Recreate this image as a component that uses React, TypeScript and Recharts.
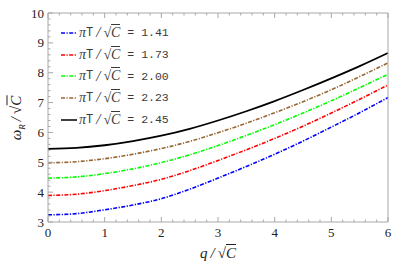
import { LineChart, Line, XAxis, YAxis } from 'recharts'

const qValues = [0, 0.5, 1, 1.5, 2, 2.5, 3, 3.5, 4, 4.5, 5, 5.5, 6]
const omegaT141 = [3.24, 3.28, 3.41, 3.57, 3.78, 4.1, 4.47, 4.86, 5.27, 5.71, 6.18, 6.66, 7.17]
const omegaT173 = [3.89, 3.93, 4.05, 4.22, 4.43, 4.72, 5.06, 5.42, 5.8, 6.21, 6.65, 7.11, 7.59]
const omegaT200 = [4.47, 4.51, 4.62, 4.78, 4.99, 5.25, 5.56, 5.9, 6.26, 6.65, 7.06, 7.5, 7.95]
const omegaT223 = [4.98, 5.02, 5.12, 5.27, 5.46, 5.7, 5.99, 6.31, 6.66, 7.03, 7.43, 7.87, 8.33]
const omegaT245 = [5.45, 5.48, 5.57, 5.71, 5.89, 6.12, 6.4, 6.71, 7.05, 7.42, 7.81, 8.22, 8.66]

const xMajor = [0, 1, 2, 3, 4, 5, 6]
const yMajor = [3, 4, 5, 6, 7, 8, 9, 10]

const DOTDASH = '4 1.5 1.2 1.5'

const series = [
  { key: 't141', label: '1.41', color: '#0000ff', dash: DOTDASH, values: omegaT141 },
  { key: 't173', label: '1.73', color: '#ff0000', dash: DOTDASH, values: omegaT173 },
  { key: 't200', label: '2.00', color: '#00ff00', dash: DOTDASH, values: omegaT200 },
  { key: 't223', label: '2.23', color: '#996633', dash: DOTDASH, values: omegaT223 },
  { key: 't245', label: '2.45', color: '#000000', dash: undefined, values: omegaT245 },
]

const data = qValues.map((q, i) => {
  const row: Record<string, number> = { q }
  series.forEach((s) => { row[s.key] = s.values[i] })
  return row
})

// majors plus 4 minor ticks in between
const withMinor = (majors: number[]) => {
  const out: number[] = []
  majors.forEach((m, i) => {
    out.push(m)
    if (i < majors.length - 1) {
      const step = (majors[i + 1] - m) / 5
      for (let k = 1; k < 5; k++) out.push(Math.round((m + k * step) * 100) / 100)
    }
  })
  return out
}
const xTicks = withMinor(xMajor)
const yTicks = withMinor(yMajor)

const FRAME = '#a8a8a8'
const SERIF = '"Liberation Serif", "Times New Roman", serif'
const MONO = '"Liberation Mono", "DejaVu Sans Mono", monospace'
const LEG_TEXT = '#3a3a3a'

const makeTick = (side: 'bottom' | 'top' | 'left' | 'right', majors: number[]) => (props: any) => {
  const { x, y, payload } = props
  const major = majors.includes(payload.value)
  const len = major ? 5 : 2.5
  let line
  if (side === 'bottom') line = <line x1={x} x2={x} y1={y} y2={y - len} stroke={FRAME} />
  else if (side === 'top') line = <line x1={x} x2={x} y1={y} y2={y + len} stroke={FRAME} />
  else if (side === 'left') line = <line x1={x} x2={x + len} y1={y} y2={y} stroke={FRAME} />
  else line = <line x1={x} x2={x - len} y1={y} y2={y} stroke={FRAME} />
  return (
    <g>
      {line}
      {major && side === 'bottom' && (
        <text x={x} y={y + 15} textAnchor="middle" fontFamily={SERIF} fontSize={13} fill="#222">
          {payload.value}
        </text>
      )}
      {major && side === 'left' && (
        <text x={x - 4} y={y + 4.5} textAnchor="end" fontFamily={SERIF} fontSize={13} fill="#222">
          {payload.value}
        </text>
      )}
    </g>
  )
}

const SqrtC = () => (
  <span style={{ whiteSpace: 'nowrap' }}>
    √<span style={{ borderTop: '1px solid currentColor', paddingTop: 0 }}>C</span>
  </span>
)

function LegendBox() {
  return (
    <div style={{ position: 'absolute', left: 61, top: 22 }}>
      {series.map((s) => (
        <div key={s.key} style={{ display: 'flex', alignItems: 'center', height: 21.7 }}>
          <svg width={16} height={4} style={{ marginRight: 2 }}>
            <line x1={0} x2={16} y1={2} y2={2} stroke={s.color} strokeWidth={1.5} strokeDasharray={s.dash} />
          </svg>
          <span style={{ fontFamily: SERIF, fontStyle: 'italic', fontSize: 14, color: LEG_TEXT }}>π</span>
          <span style={{ fontFamily: MONO, fontSize: 12, color: LEG_TEXT }}>T</span>
          <span style={{ fontFamily: SERIF, fontStyle: 'italic', fontSize: 15, color: LEG_TEXT, margin: '0 3px' }}>/</span>
          <span style={{ fontFamily: SERIF, fontStyle: 'italic', fontSize: 14, color: LEG_TEXT }}><SqrtC /></span>
          <span style={{ fontFamily: MONO, fontSize: 11.5, color: LEG_TEXT, whiteSpace: 'pre' }}>{` = ${s.label}`}</span>
        </div>
      ))}
    </div>
  )
}

export default function App() {
  return (
    <div style={{ position: 'absolute', left: 0, top: 0, width: 398, height: 271, background: '#fff' }}>
      <LineChart width={398} height={271} data={data} margin={{ top: 0, right: 0, left: 0, bottom: 19 }}>
        <XAxis
          dataKey="q"
          type="number"
          domain={[0, 6]}
          ticks={xTicks}
          interval={0}
          height={30}
          tickSize={0}
          tickMargin={0}
          tickLine={false}
          axisLine={{ stroke: FRAME }}
          tick={makeTick('bottom', xMajor)}
        />
        <XAxis
          xAxisId="top"
          orientation="top"
          dataKey="q"
          type="number"
          domain={[0, 6]}
          ticks={xTicks}
          interval={0}
          height={13}
          tickSize={0}
          tickMargin={0}
          tickLine={false}
          axisLine={{ stroke: FRAME }}
          tick={makeTick('top', xMajor)}
        />
        <YAxis
          type="number"
          domain={[3, 10]}
          ticks={yTicks}
          interval={0}
          width={48}
          tickSize={0}
          tickMargin={0}
          tickLine={false}
          axisLine={{ stroke: FRAME }}
          tick={makeTick('left', yMajor)}
        />
        <YAxis
          yAxisId="right"
          orientation="right"
          type="number"
          domain={[3, 10]}
          ticks={yTicks}
          interval={0}
          width={10}
          tickSize={0}
          tickMargin={0}
          tickLine={false}
          axisLine={{ stroke: FRAME }}
          tick={makeTick('right', yMajor)}
        />
        {series.map((s) => (
          <Line
            key={s.key}
            dataKey={s.key}
            type="monotone"
            stroke={s.color}
            strokeWidth={s.dash ? 1.6 : 1.8}
            strokeDasharray={s.dash}
            dot={false}
            isAnimationActive={false}
          />
        ))}
      </LineChart>
      <LegendBox />
      <div
        style={{
          position: 'absolute', left: 218, top: 245, transform: 'translateX(-50%)',
          fontFamily: SERIF, fontStyle: 'italic', fontSize: 15, color: '#222', whiteSpace: 'nowrap',
        }}
      >
        q<span style={{ margin: '0 3px' }}>/</span><SqrtC />
      </div>
      <div
        style={{
          position: 'absolute', left: 17, top: 118, transform: 'translate(-50%, -50%) rotate(-90deg)',
          fontFamily: SERIF, fontStyle: 'italic', fontSize: 15, color: '#222', whiteSpace: 'nowrap',
        }}
      >
        ω<sub style={{ fontSize: 9 }}>R</sub><span style={{ margin: '0 3px' }}>/</span><SqrtC />
      </div>
    </div>
  )
}
